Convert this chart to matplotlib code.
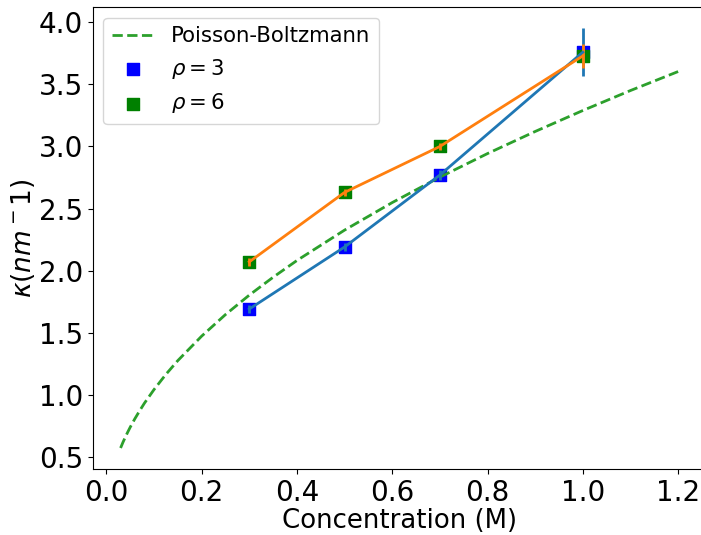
import numpy as np
import matplotlib
matplotlib.use('Agg')
import matplotlib.pyplot as plt

# concentrations of the simulated points (M)
conc = [0.3, 0.5, 0.7, 1.0]

# kappa for rho = 3 and rho = 6, with error bars
kappa_rho3 = [1.69, 2.19, 2.77, 3.76]
err_rho3 = [0.03, 0.03, 0.04, 0.195]
kappa_rho6 = [2.07, 2.63, 3.00, 3.73]
err_rho6 = [0.03, 0.03, 0.03, 0.10]

# Poisson-Boltzmann curve
pb_conc = [0.03, 0.035, 0.04, 0.045, 0.05, 0.06, 0.07, 0.08, 0.1, 0.125, 0.15,
           0.2, 0.25, 0.3, 0.35, 0.4, 0.5, 0.6, 0.7, 0.8, 0.9, 1.0, 1.1, 1.2]
pb_kappa = [0.570, 0.616, 0.658, 0.698, 0.736, 0.806, 0.870, 0.931, 1.040,
            1.163, 1.274, 1.471, 1.645, 1.802, 1.946, 2.081, 2.326, 2.548,
            2.753, 2.943, 3.121, 3.290, 3.451, 3.604]

fig = plt.figure(figsize=(7.01, 5.35), dpi=100)
ax = fig.add_axes([92.7 / 701, 66 / 535, (706 - 92.7) / 701, 462 / 535])

ax.plot(pb_conc, pb_kappa, '--', color='C2', lw=2, label='Poisson-Boltzmann')
ax.errorbar(conc, kappa_rho3, yerr=err_rho3, color='C0', lw=2)
ax.errorbar(conc, kappa_rho6, yerr=err_rho6, color='C1', lw=2)
ax.scatter(conc, kappa_rho3, marker='s', s=75, color='b', label=r'$\rho = 3$')
ax.scatter(conc, kappa_rho6, marker='s', s=75, color='g', label=r'$\rho = 6$')

ax.set_xlabel('Concentration (M)', fontsize=18.7, labelpad=1)
ax.set_ylabel(r'$\kappa (nm^-1)$', fontsize=19, labelpad=1)
ax.tick_params(labelsize=20)
ax.set_xticks([0.0, 0.2, 0.4, 0.6, 0.8, 1.0, 1.2])
ax.legend(loc='upper left', fontsize=15.3)

fig.savefig('out.png', dpi=100)
